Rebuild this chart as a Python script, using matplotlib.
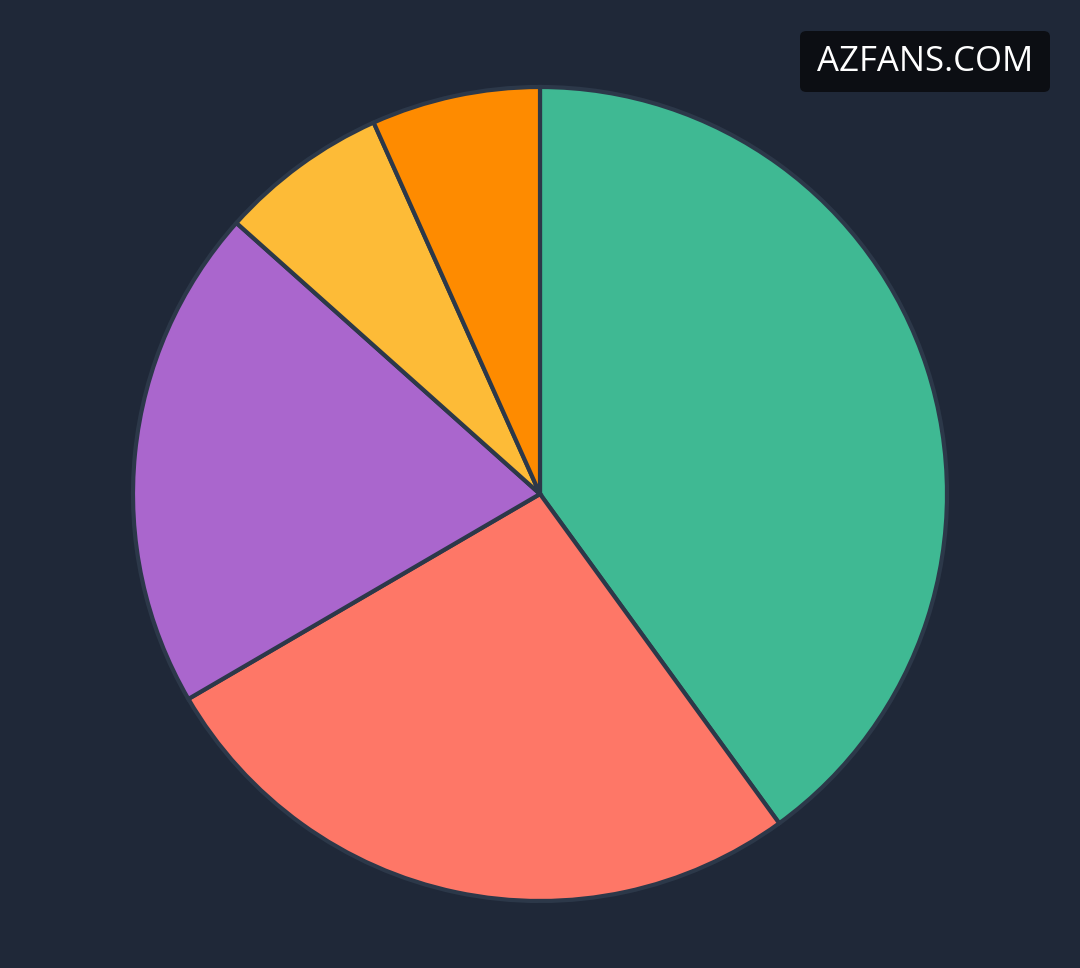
import matplotlib
matplotlib.use("Agg")
import matplotlib.pyplot as plt
from matplotlib.patches import FancyBboxPatch

# slice shares, clockwise from 12 o'clock
labels = ['Green', 'Red', 'Purple', 'Yellow', 'Orange']
shares = [40.0, 26.6, 20.0, 6.7, 6.7]
colors = ['#3fb993', '#fe7767', '#aa66cd', '#fdbb37', '#fe8b00']

bg = '#1f2838'
edge = '#2c3849'

W, H = 1080, 968
fig = plt.figure(figsize=(W / 100, H / 100), dpi=100)
fig.patch.set_facecolor(bg)

# pie centre (540, 494) px, radius 407 px
cx, cy, r = 540, 968 - 494, 407
ax = fig.add_axes([(cx - r) / W, (cy - r) / H, 2 * r / W, 2 * r / H])
ax.set_facecolor(bg)
ax.pie(shares, colors=colors, startangle=90, counterclock=False, radius=1,
       wedgeprops=dict(edgecolor=edge, linewidth=3.0))
ax.set_xlim(-1, 1)
ax.set_ylim(-1, 1)
ax.set_aspect('equal')
ax.axis('off')

# watermark box
box = FancyBboxPatch((800 / W, 1 - 92 / H), 250 / W, 61 / H,
                     boxstyle="round,pad=0,rounding_size=0.006",
                     transform=fig.transFigure, facecolor='#0c0e13',
                     edgecolor='none')
fig.patches.append(box)
fig.text(925 / W, 1 - 62 / H, 'AZFANS.COM', color='white', fontsize=25,
         family='Open Sans', ha='center', va='center')

fig.savefig('out.png', dpi=100, facecolor=bg)
